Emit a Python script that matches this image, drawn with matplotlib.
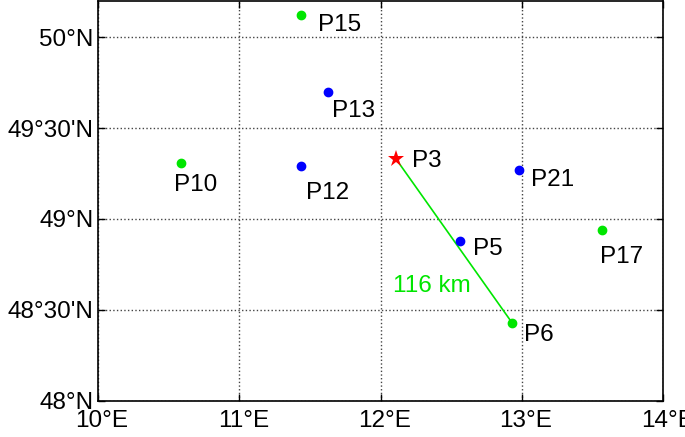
import matplotlib
matplotlib.use("Agg")
import matplotlib.pyplot as plt
import matplotlib.transforms as mtransforms

plt.rcParams['font.family'] = ['Liberation Sans', 'DejaVu Sans']

# station positions (lon, lat)
names = ["P15", "P13", "P10", "P12", "P21", "P5", "P6", "P17"]
lons = [11.44, 11.63, 10.59, 11.44, 12.98, 12.56, 12.93, 13.57]
lats = [50.12, 49.70, 49.31, 49.29, 49.27, 48.88, 48.43, 48.94]
colors = ["#00e600", "#0000ff", "#00e600", "#0000ff", "#0000ff", "#0000ff", "#00e600", "#00e600"]
# label anchor positions
label_lons = [11.557, 11.656, 10.538, 11.472, 13.064, 12.654, 13.015, 13.553]
label_lats = [50.066, 49.596, 49.187, 49.144, 49.215, 48.834, 48.359, 48.790]

ref_name = "P3"
ref_lon, ref_lat = 12.11, 49.33
ref_label = (12.222, 49.32)

dist_text = "116 km"
dist_pos = (12.09, 48.632)

xticks = [10, 11, 12, 13, 14]
xticklabels = ["10°E", "11°E", "12°E", "13°E", "14°E"]
yticks = [48, 48.5, 49, 49.5, 50]
yticklabels = ["48°N", "48°30'N", "49°N", "49°30'N", "50°N"]

fig = plt.figure(figsize=(6.85, 4.37), dpi=100)
ax = fig.add_axes([0.143, 0.083, 0.825, 0.915])

# distance line P3 -> P6
ax.plot([ref_lon, lons[6]], [ref_lat, lats[6]], color="#00e600", lw=1.2, zorder=2)

for lo, la, c in zip(lons, lats, colors):
    ax.plot(lo, la, 'o', color=c, markersize=6, zorder=3)
ax.plot(ref_lon, ref_lat, '*', color="#ff0000", markersize=12.5, markeredgewidth=0, zorder=4)

fs = 17.5
for n, lx, ly in zip(names, label_lons, label_lats):
    ax.text(lx, ly, n, fontsize=fs, ha='left', va='center')
ax.text(ref_label[0], ref_label[1], ref_name, fontsize=fs, ha='left', va='center')
ax.text(dist_pos[0], dist_pos[1], dist_text, fontsize=fs, color="#00e600", ha='left', va='center')

ax.set_xlim(10, 14)
ax.set_ylim(48, 50.2)
ax.set_xticks(xticks)
ax.set_xticklabels(xticklabels, fontsize=fs)
ax.set_yticks(yticks)
ax.set_yticklabels(yticklabels, fontsize=fs)
ax.tick_params(direction='in', top=True, right=True, length=5, width=1)
ax.tick_params(axis='x', pad=7)
ax.tick_params(axis='y', pad=3)
shift = mtransforms.ScaledTranslation(4 / 100, 0, fig.dpi_scale_trans)
for lab in ax.get_xticklabels():
    lab.set_transform(lab.get_transform() + shift)
ax.grid(True, linestyle=':', color='#444444', lw=1)
for s in ax.spines.values():
    s.set_linewidth(1.2)

fig.savefig("out.png", dpi=100)
